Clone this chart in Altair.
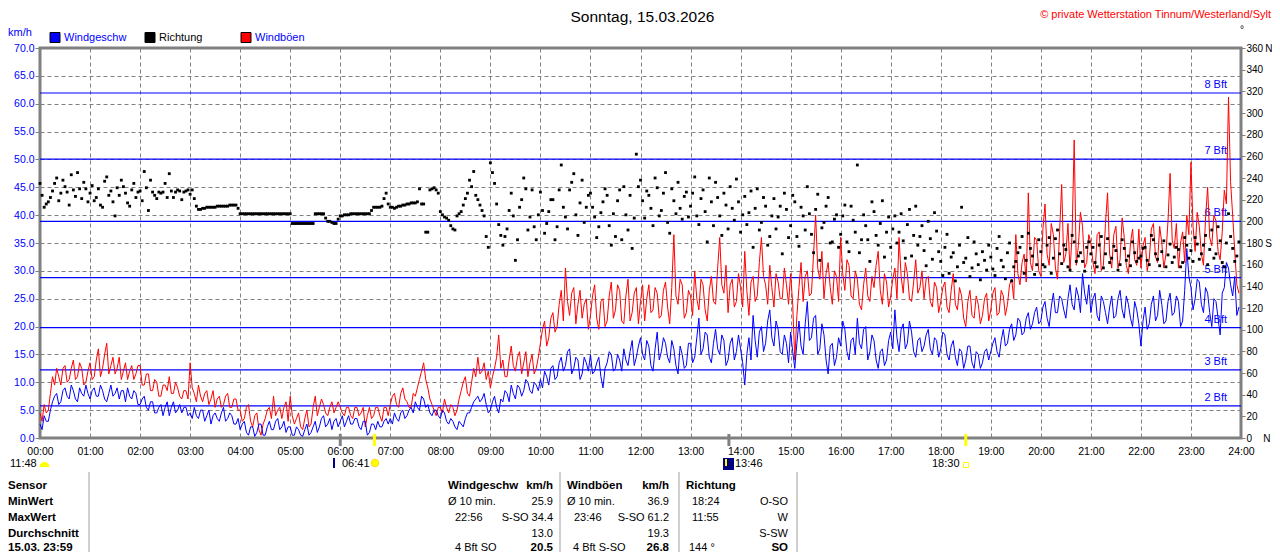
import altair as alt
import pandas as pd

FONT = "Liberation Sans"

# ---------------- data ----------------
# values on the full 5-minute marks (hh:00, hh:05, ...)
wind_by_hour = [
    [2.5, 4.0, 3.0, 6.5, 8.0, 6.5, 9.0, 7.0, 8.5, 6.5, 8.0, 9.5],
    [7.0, 9.0, 7.5, 8.5, 6.5, 9.5, 8.0, 7.0, 8.5, 9.0, 7.0, 8.0],
    [6.0, 7.5, 5.0, 6.5, 4.5, 6.0, 5.5, 4.0, 6.5, 5.0, 4.5, 5.5],
    [4.5, 5.5, 3.5, 5.0, 4.0, 2.5, 4.5, 3.0, 5.5, 3.5, 4.0, 2.5],
    [1.5, 3.0, 0.5, 2.0, 1.0, 2.5, 0.5, 3.0, 1.5, 3.5, 2.0, 1.0],
    [2.0, 0.5, 1.5, 0.3, 2.5, 1.0, 3.0, 2.0, 4.0, 2.5, 1.5, 3.5],
    [3.0, 2.0, 4.0, 2.5, 3.5, 1.5, 3.0, 1.0, 2.5, 3.0, 2.0, 3.5],
    [3.5, 4.5, 3.0, 5.0, 4.0, 5.5, 6.5, 5.0, 7.0, 6.0, 4.0, 5.0],
    [3.5, 4.5, 2.5, 3.0, 1.5, 2.5, 3.5, 4.5, 6.5, 7.5, 7.0, 6.0],
    [5.0, 7.5, 4.5, 6.5, 8.0, 9.5, 7.0, 9.0, 8.5, 10.0, 8.0, 9.5],
    [10.5, 12.0, 9.5, 13.0, 11.0, 14.5, 13.0, 16.0, 12.5, 14.0, 11.5, 13.5],
    [15.0, 12.0, 14.5, 9.0, 13.5, 15.0, 12.5, 14.0, 16.0, 13.0, 17.5, 14.5],
    [18.0, 14.0, 16.5, 12.0, 19.0, 15.5, 17.0, 13.5, 16.0, 11.5, 15.0, 13.0],
    [17.0, 14.5, 21.5, 16.0, 18.5, 13.5, 19.5, 15.0, 17.5, 14.0, 18.0, 15.5],
    [16.0, 9.5, 18.0, 22.0, 14.5, 20.0, 17.0, 23.0, 16.5, 19.5, 15.0, 17.0],
    [19.0, 12.5, 21.0, 15.0, 24.5, 18.0, 22.0, 16.0, 18.5, 11.5, 17.0, 14.5],
    [16.5, 19.5, 14.0, 18.0, 21.5, 16.0, 20.0, 15.5, 17.5, 12.5, 16.0, 14.0],
    [19.0, 23.0, 15.5, 20.5, 17.0, 19.0, 14.5, 18.0, 16.5, 19.5, 15.0, 17.5],
    [16.0, 18.5, 14.0, 17.5, 13.0, 15.5, 14.0, 16.5, 12.5, 15.0, 13.5, 16.0],
    [15.5, 18.0, 14.5, 19.5, 17.0, 20.5, 18.5, 21.0, 19.0, 22.5, 20.5, 23.5],
    [21.0, 24.5, 20.0, 26.0, 22.5, 25.0, 21.5, 27.5, 23.0, 25.5, 29.5, 24.0],
    [22.5, 26.0, 21.0, 24.5, 20.5, 25.5, 22.0, 26.5, 21.5, 24.0, 20.0, 23.0],
    [16.5, 23.5, 20.5, 25.5, 22.0, 24.0, 21.0, 26.0, 22.5, 24.5, 21.0, 34.0],
    [27.0, 25.0, 28.0, 22.5, 26.0, 20.0, 24.5, 18.5, 27.0, 30.5, 25.5, 22.0],
]
# values half-way between the 5-minute marks (hh:02:30, hh:07:30, ...)
wind_half_by_hour = [
    [1.5, 3.0, 5.0, 7.5, 6.0, 8.5, 7.5, 9.5, 7.0, 9.0, 7.5, 8.0],
    [8.5, 7.5, 9.5, 7.0, 8.0, 7.5, 9.0, 8.5, 6.5, 7.5, 8.5, 6.0],
    [7.0, 5.5, 6.5, 4.5, 5.5, 4.0, 6.5, 5.5, 4.5, 6.0, 5.5, 4.0],
    [3.5, 4.0, 5.0, 3.0, 5.0, 4.0, 3.5, 4.5, 3.0, 4.5, 2.5, 3.5],
    [2.5, 1.0, 2.0, 0.3, 2.5, 0.5, 2.0, 1.5, 3.0, 1.5, 3.0, 2.0],
    [0.5, 2.0, 0.5, 1.5, 0.5, 2.0, 1.0, 3.5, 2.0, 3.5, 3.0, 2.0],
    [4.0, 3.0, 2.5, 3.5, 2.0, 3.0, 0.5, 2.5, 1.5, 2.0, 3.0, 2.5],
    [2.5, 3.5, 4.5, 3.5, 5.0, 4.5, 5.5, 7.5, 5.5, 4.5, 5.0, 4.0],
    [5.0, 3.0, 3.5, 2.0, 3.0, 2.0, 4.5, 5.5, 7.0, 6.5, 8.0, 4.5],
    [6.5, 5.5, 7.0, 8.5, 6.5, 8.0, 9.5, 7.5, 10.5, 8.5, 10.0, 8.5],
    [9.0, 11.0, 12.5, 10.5, 13.5, 12.0, 15.5, 11.5, 14.5, 10.5, 14.5, 12.0],
    [11.5, 13.5, 11.0, 12.5, 15.5, 12.0, 15.0, 12.0, 14.0, 15.5, 13.0, 16.5],
    [15.0, 17.5, 13.0, 16.0, 14.0, 18.0, 14.5, 17.5, 13.0, 16.5, 12.5, 17.0],
    [13.5, 18.0, 15.0, 19.0, 14.5, 17.0, 16.0, 18.5, 13.0, 17.0, 14.0, 18.5],
    [13.5, 15.0, 14.0, 17.5, 19.0, 15.5, 21.0, 18.0, 21.0, 15.5, 18.5, 13.5],
    [15.5, 17.0, 16.5, 20.5, 17.5, 21.5, 15.0, 20.5, 14.0, 16.5, 13.0, 18.0],
    [21.0, 15.5, 17.5, 15.0, 17.0, 19.5, 14.0, 18.5, 14.0, 15.5, 13.0, 17.5],
    [16.0, 18.0, 19.5, 16.0, 21.0, 15.5, 17.5, 15.5, 18.5, 16.0, 18.0, 14.5],
    [19.0, 15.0, 16.5, 14.5, 16.0, 12.5, 16.5, 13.5, 15.5, 12.5, 15.5, 14.0],
    [17.0, 15.5, 17.5, 16.5, 19.5, 17.5, 21.5, 18.5, 21.5, 19.5, 22.5, 20.5],
    [23.5, 21.5, 23.5, 22.5, 25.5, 23.0, 25.0, 24.0, 27.0, 22.5, 26.0, 27.5],
    [25.0, 22.0, 25.5, 22.5, 23.5, 21.5, 25.0, 23.0, 25.5, 21.5, 24.5, 20.5],
    [21.0, 19.5, 24.0, 21.0, 26.5, 20.5, 24.5, 22.0, 25.5, 20.0, 26.5, 29.0],
    [23.0, 28.5, 24.0, 27.0, 22.5, 25.0, 21.5, 26.0, 31.5, 27.5, 29.0, 23.5],
]

gust_by_hour = [
    [4.5, 6.0, 5.0, 11.0, 12.5, 9.5, 13.0, 10.5, 14.0, 11.0, 12.5, 10.0],
    [13.5, 11.0, 16.0, 12.5, 17.0, 13.0, 11.5, 14.5, 12.0, 10.5, 13.0, 11.5],
    [13.0, 9.5, 11.5, 8.5, 10.0, 7.5, 9.5, 11.0, 8.0, 9.0, 7.0, 8.5],
    [13.5, 8.0, 9.5, 6.5, 8.5, 7.0, 5.5, 7.5, 6.0, 8.0, 5.5, 7.0],
    [5.0, 3.5, 6.0, 2.0, 4.5, 0.5, 3.5, 5.5, 7.5, 5.0, 3.5, 6.5],
    [7.5, 2.5, 4.5, 1.5, 5.0, 2.5, 7.5, 5.5, 6.0, 4.0, 6.5, 5.5],
    [5.5, 4.0, 5.5, 3.5, 5.5, 4.5, 2.0, 5.5, 4.0, 5.5, 3.0, 5.5],
    [6.0, 8.0, 5.5, 9.0, 6.5, 5.5, 7.5, 10.5, 13.5, 9.0, 6.0, 4.0],
    [5.5, 7.0, 4.5, 5.5, 5.0, 8.5, 11.0, 7.5, 12.5, 14.5, 12.0, 10.5],
    [9.0, 12.5, 18.5, 14.0, 11.0, 16.5, 12.0, 15.5, 13.5, 11.0, 15.0, 12.5],
    [17.0, 21.0, 18.0, 22.5, 20.0, 26.5, 30.5, 22.0, 27.0, 24.0, 21.5, 25.0],
    [22.0, 27.5, 19.5, 25.0, 21.0, 28.0, 23.0, 26.5, 20.5, 28.5, 22.5, 27.0],
    [24.5, 21.0, 27.5, 23.0, 26.0, 22.0, 28.0, 20.5, 36.5, 24.0, 27.5, 22.5],
    [25.5, 30.0, 23.0, 27.5, 21.0, 29.0, 24.0, 36.0, 26.0, 22.5, 28.5, 24.5],
    [27.0, 33.5, 22.0, 29.0, 25.5, 36.0, 27.5, 31.0, 23.5, 28.0, 25.0, 27.5],
    [29.5, 14.0, 27.0, 24.5, 30.0, 26.0, 40.0, 28.5, 25.0, 31.5, 24.0, 29.0],
    [36.0, 26.5, 31.0, 25.0, 28.5, 23.0, 30.5, 24.5, 27.0, 33.5, 24.0, 28.0],
    [25.5, 30.5, 36.0, 26.0, 29.5, 24.5, 32.0, 27.0, 25.0, 29.0, 23.5, 27.0],
    [24.5, 28.0, 22.5, 29.5, 23.0, 25.5, 20.0, 26.5, 21.5, 24.0, 22.0, 26.0],
    [23.0, 27.0, 22.5, 25.5, 24.0, 28.5, 36.5, 27.5, 33.0, 44.0, 30.0, 35.5],
    [29.0, 42.0, 31.0, 36.5, 28.5, 45.5, 33.0, 30.0, 53.5, 34.5, 38.0, 31.5],
    [35.0, 29.5, 37.0, 31.0, 44.0, 30.5, 38.0, 32.0, 36.0, 29.5, 37.5, 31.0],
    [30.5, 36.0, 32.0, 38.5, 31.5, 35.0, 33.0, 47.5, 34.0, 30.5, 37.0, 40.0],
    [49.5, 33.5, 38.0, 31.0, 45.0, 34.5, 39.0, 32.0, 44.5, 61.2, 40.0, 27.5],
]
gust_half_by_hour = [
    [3.0, 4.5, 8.0, 9.5, 11.0, 12.5, 10.0, 12.5, 10.5, 13.5, 9.5, 12.0],
    [10.5, 14.0, 11.0, 15.0, 11.5, 14.5, 12.5, 10.5, 13.5, 12.0, 10.5, 13.0],
    [9.5, 11.5, 8.5, 10.5, 7.5, 9.5, 8.5, 8.0, 10.0, 7.5, 8.5, 7.0],
    [9.0, 6.5, 7.5, 8.0, 6.0, 8.5, 7.0, 5.5, 7.5, 5.5, 7.0, 5.0],
    [3.0, 5.5, 3.0, 4.0, 1.5, 2.5, 5.0, 3.5, 4.0, 5.5, 5.5, 3.0],
    [4.0, 3.5, 2.0, 3.5, 2.0, 5.5, 4.0, 7.0, 4.5, 5.5, 4.5, 6.5],
    [4.5, 5.5, 4.0, 5.5, 4.0, 5.5, 4.0, 3.5, 5.5, 4.0, 5.5, 4.0],
    [7.5, 6.0, 8.0, 7.0, 5.5, 8.0, 9.0, 12.0, 10.5, 7.0, 5.0, 5.5],
    [4.5, 5.5, 6.0, 4.0, 7.0, 10.0, 8.0, 10.0, 11.0, 11.5, 13.5, 12.0],
    [11.0, 14.5, 12.5, 11.0, 14.0, 13.0, 14.5, 11.5, 15.5, 13.5, 11.5, 14.5],
    [19.5, 16.5, 21.5, 19.0, 24.0, 21.0, 24.5, 26.0, 20.5, 26.5, 24.0, 19.5],
    [25.5, 21.5, 24.5, 20.0, 25.5, 21.5, 27.5, 21.0, 25.5, 21.0, 26.0, 20.5],
    [27.5, 25.0, 22.5, 27.0, 21.5, 26.5, 23.5, 27.0, 25.5, 28.5, 21.5, 26.5],
    [22.0, 25.0, 28.5, 23.0, 26.5, 24.5, 30.5, 27.5, 31.0, 27.5, 23.5, 29.5],
    [23.5, 26.5, 28.0, 24.5, 31.5, 29.0, 24.0, 27.0, 29.5, 25.0, 30.5, 24.0],
    [24.0, 22.0, 31.5, 29.0, 25.5, 33.0, 30.5, 33.5, 29.5, 27.0, 30.0, 24.5],
    [29.5, 32.0, 25.5, 30.0, 24.0, 27.5, 25.5, 29.0, 31.0, 26.5, 29.5, 23.5],
    [28.5, 25.0, 29.0, 31.5, 25.0, 28.0, 26.0, 30.0, 28.5, 24.5, 28.0, 22.5],
    [27.0, 23.5, 26.5, 24.0, 27.0, 21.5, 24.5, 22.0, 25.5, 20.5, 25.0, 21.0],
    [26.0, 22.0, 26.5, 22.0, 27.5, 25.0, 29.5, 31.5, 28.0, 31.5, 36.0, 30.0],
    [37.5, 33.0, 38.5, 30.5, 37.0, 31.5, 38.5, 36.5, 31.0, 40.5, 30.5, 36.5],
    [31.5, 36.5, 30.0, 38.5, 33.0, 36.5, 30.5, 39.5, 31.0, 35.0, 32.0, 37.5],
    [34.5, 30.0, 37.5, 32.5, 38.0, 30.5, 39.0, 35.5, 38.5, 35.0, 31.5, 36.5],
    [38.0, 40.5, 33.0, 39.5, 36.0, 40.0, 33.5, 37.0, 42.0, 46.0, 33.5, 26.0],
]

dir_by_hour = [
    [235, 213, 218, 228, 240, 226, 232, 215, 229, 245, 221, 230],
    [226, 219, 230, 213, 241, 228, 205, 224, 232, 217, 229, 222],
    [228, 246, 210, 227, 221, 226, 235, 244, 222, 229, 220, 228],
    [225, 221, 211, 212, 213, 213, 213, 214, 214, 214, 215, 215],
    [207, 207, 207, 207, 207, 207, 207, 207, 207, 207, 207, 207],
    [207, 198, 198, 198, 198, 198, 207, 207, 207, 200, 199, 198],
    [205, 206, 206, 207, 207, 207, 207, 207, 213, 213, 214, 226],
    [213, 212, 214, 215, 216, 217, 217, 230, 216, 190, 230, 229],
    [209, 204, 201, 193, 205, 209, 221, 238, 246, 220, 210, 186],
    [254, 235, 197, 178, 193, 226, 164, 213, 240, 192, 229, 183],
    [227, 189, 209, 220, 195, 252, 204, 229, 244, 187, 238, 213],
    [226, 204, 195, 218, 224, 178, 186, 229, 232, 192, 175, 262],
    [238, 203, 224, 196, 231, 210, 245, 189, 219, 236, 202, 227],
    [214, 241, 197, 229, 181, 218, 236, 205, 226, 193, 212, 239],
    [190, 223, 208, 176, 230, 199, 214, 186, 221, 204, 170, 211],
    [196, 218, 177, 205, 232, 188, 211, 164, 199, 222, 181, 206],
    [188, 215, 172, 201, 252, 183, 196, 163, 209, 178, 219, 190],
    [176, 205, 190, 182, 197, 168, 214, 186, 173, 200, 165, 191],
    [163, 176, 152, 171, 158, 213, 166, 149, 181, 160, 172, 155],
    [167, 150, 186, 158, 171, 145, 163, 176, 152, 189, 168, 160],
    [172, 158, 185, 166, 192, 161, 174, 155, 181, 168, 163, 176],
    [170, 162, 178, 157, 184, 166, 173, 160, 175, 168, 181, 163],
    [168, 176, 160, 183, 165, 172, 158, 179, 167, 174, 162, 178],
    [173, 185, 165, 178, 160, 192, 170, 182, 158, 207, 175, 168],
]
dir_half_by_hour = [
    [224, 216, 222, 235, 219, 238, 227, 243, 223, 230, 236, 218],
    [233, 222, 215, 237, 224, 218, 231, 238, 226, 214, 235, 227],
    [219, 231, 238, 224, 227, 227, 222, 228, 227, 228, 227, 229],
    [229, 214, 211, 212, 213, 213, 214, 214, 214, 215, 215, 212],
    [207, 207, 207, 207, 207, 207, 207, 207, 207, 207, 207, 207],
    [198, 198, 198, 198, 198, 198, 207, 207, 203, 200, 198, 202],
    [205, 206, 207, 207, 207, 207, 207, 210, 213, 213, 221, 216],
    [213, 213, 214, 215, 216, 217, 218, 216, 190, 229, 231, 226],
    [206, 203, 196, 192, 207, 215, 226, 232, 224, 215, 205, 176],
    [245, 216, 187, 186, 210, 205, 183, 220, 230, 204, 195, 206],
    [210, 198, 220, 183, 229, 213, 193, 236, 206, 217, 199, 224],
    [213, 185, 208, 230, 196, 207, 219, 183, 206, 224, 203, 232],
    [219, 228, 212, 240, 205, 226, 199, 230, 207, 212, 223, 204],
    [226, 205, 221, 209, 240, 196, 222, 187, 215, 232, 201, 218],
    [206, 197, 228, 212, 192, 222, 178, 205, 193, 214, 226, 185],
    [224, 186, 213, 192, 207, 171, 225, 194, 214, 180, 202, 176],
    [205, 181, 214, 190, 171, 206, 183, 218, 187, 198, 167, 204],
    [193, 180, 207, 166, 211, 187, 178, 196, 159, 184, 208, 172],
    [150, 188, 167, 145, 178, 162, 185, 157, 170, 146, 164, 178],
    [156, 175, 164, 147, 180, 158, 171, 186, 164, 175, 151, 183],
    [160, 178, 152, 184, 170, 178, 158, 187, 163, 171, 154, 181],
    [176, 158, 186, 170, 162, 177, 155, 183, 164, 159, 171, 166],
    [175, 164, 187, 170, 159, 182, 169, 162, 176, 158, 185, 166],
    [163, 179, 170, 187, 174, 166, 195, 162, 180, 186, 163, 181],
]

bft_levels = [2, 3, 4, 5, 6, 7, 8]
bft_kmh = [5.76, 12.24, 19.8, 28.8, 38.88, 50.04, 61.92]

title_text = "Sonntag, 15.03.2026"
credit_text = "© private Wetterstation Tinnum/Westerland/Sylt"
legend_names = ["Windgeschw", "Richtung", "Windböen"]
legend_fill = ["#0000ff", "#000000", "#ff0000"]
legend_text_color = ["#0000ff", "#000000", "#0000ff"]

event_labels = ["11:48", "06:41", "13:46", "18:30"]
marker_minutes = [360, 401, 826, 1110]
marker_colors = ["#808080", "#ffff00", "#808080", "#ffff00"]

table_labels = ["Sensor", "MinWert", "MaxWert", "Durchschnitt", "15.03.  23:59"]
ws_left = ["Windgeschw", "Ø 10 min.", "22:56", "", "4 Bft SO"]
ws_right = ["km/h", "25.9", "S-SO 34.4", "13.0", "20.5"]
wg_left = ["Windböen", "Ø 10 min.", "23:46", "", "4 Bft S-SO"]
wg_right = ["km/h", "36.9", "S-SO 61.2", "19.3", "26.8"]
rd_left = ["Richtung", "18:24", "11:55", "", "144 °"]
rd_right = ["", "O-SO", "W", "S-SW", "SO"]


def interleave(full_rows, half_rows):
    out = []
    for fr, hr in zip(full_rows, half_rows):
        for a, b in zip(fr, hr):
            out.extend([a, b])
    return out


n = 24 * 12 * 2
df = pd.DataFrame({
    "t": [2.5 * i for i in range(n)],
    "wind": interleave(wind_by_hour, wind_half_by_hour),
    "gust": interleave(gust_by_hour, gust_half_by_hour),
    "dir": interleave(dir_by_hour, dir_half_by_hour),
})

GRID = "#808080"
BLUE = "#0000ff"

x_axis = alt.Axis(
    values=list(range(0, 1441, 60)),
    labelExpr="(datum.value < 600 ? '0' : '') + floor(datum.value / 60) + ':00'",
    grid=True, gridColor=GRID, gridDash=[4, 3], gridWidth=1,
    ticks=False, tickSize=0, domain=False, labelPadding=8,
    labelFontSize=10.5, labelColor="black", labelFont=FONT,
    labelFlush=False, labelOverlap=False, title=None,
)
x_enc = alt.X("t:Q", scale=alt.Scale(domain=[0, 1440], nice=False, zero=False), axis=x_axis)
kmh_scale = alt.Scale(domain=[0, 70], nice=False, zero=False)
left_axis = alt.Axis(
    values=list(range(0, 71, 5)), format=".1f",
    grid=True, gridColor=GRID, gridDash=[4, 3], gridWidth=1,
    tickColor=GRID, tickSize=5, tickWidth=1, domain=False,
    labelColor=BLUE, labelFontSize=10.5, labelFont=FONT, labelPadding=1,
    labelOverlap=False, title=None,
)
TS = "\u2009"
NB = "\u00a0"
right_axis = alt.Axis(
    orient="right", values=list(range(0, 361, 20)),
    labelExpr=("datum.value == 360 ? '360" + TS + "N' : datum.value == 180 ? '180" + TS
               + "S' : datum.value == 0 ? '0" + NB * 4 + "N' : datum.label"),
    grid=False, tickColor=GRID, tickSize=4, tickWidth=1, domain=False,
    labelColor="black", labelFontSize=10, labelFont=FONT, labelPadding=1,
    labelOverlap=False, title=None,
)

bft_df = pd.DataFrame({"kmh": bft_kmh, "label": [f"{b} Bft" for b in bft_levels]})

bft_rules = alt.Chart(bft_df).mark_rule(color=BLUE, strokeWidth=1.2).encode(
    y=alt.Y("kmh:Q", scale=kmh_scale, axis=None)
)
bft_text = alt.Chart(bft_df).mark_text(
    align="right", baseline="middle", dy=-8, color=BLUE, font=FONT, fontSize=11
).encode(x=alt.value(1187), y=alt.Y("kmh:Q", scale=kmh_scale, axis=None), text="label:N")

gust_line = alt.Chart(df).mark_line(color="#ff0000", strokeWidth=1).encode(
    x=x_enc, y=alt.Y("gust:Q", scale=kmh_scale, axis=None)
)
wind_line = alt.Chart(df).mark_line(color=BLUE, strokeWidth=1).encode(
    x=x_enc, y=alt.Y("wind:Q", scale=kmh_scale, axis=left_axis)
)
dir_points = alt.Chart(df).mark_square(size=8, color="black", opacity=1).encode(
    x=x_enc, y=alt.Y("dir:Q", scale=alt.Scale(domain=[0, 360], nice=False, zero=False), axis=right_axis)
)

mk_df = pd.DataFrame({"t": marker_minutes, "color": marker_colors})
markers = alt.Chart(mk_df).mark_rule(strokeWidth=3).encode(
    x=x_enc, y=alt.value(386), y2=alt.value(398), color=alt.Color("color:N", scale=None)
)


def text_layer(items, align="left", weight="normal", baseline="middle"):
    d = pd.DataFrame(items, columns=["label", "px", "py", "color", "fs"])
    return alt.Chart(d).mark_text(align=align, baseline=baseline, font=FONT, fontWeight=weight).encode(
        x=alt.X("px:Q", scale=None, axis=None),
        y=alt.Y("py:Q", scale=None, axis=None),
        text="label:N",
        color=alt.Color("color:N", scale=None),
        size=alt.Size("fs:Q", scale=None),
    )


# layout (view coordinates = page pixels minus (40, 48))
title_items = [(title_text, 602.5, -26, "black", 15.5)]
center_items = [("°", 1202, -18, "black", 10)]
right_top = [(credit_text, 1231, -30, "#ff0000", 11)]

left_normal = [("km/h", -32, -15, BLUE, 11)]
legend_x = [15, 110, 206]
for name, lx, tc in zip(legend_names, legend_x, legend_text_color):
    left_normal.append((name, lx + 9, -10, tc, 11))
event_x = [-30, 302, 695, 892]
for lab, ex in zip(event_labels, event_x):
    left_normal.append((lab, ex, 416, "black", 11))

ROW_Y = [437.5, 453.5, 469.5, 485.5, 499.5]
left_bold, right_normal, right_bold = [], [], []
for i, lab in enumerate(table_labels):
    left_bold.append((lab, -32, ROW_Y[i], "black", 11.5))

cols = [
    (ws_left, ws_right, 408, [0, 0, 7, 7, 7], 513),
    (wg_left, wg_right, 527, [0, 0, 7, 7, 6], 629),
    (rd_left, rd_right, 646, [0, 6, 6, 6, 3], 748),
]
for lefts, rights, lx, ind, rx in cols:
    for i in range(5):
        if lefts[i]:
            item = (lefts[i], lx + ind[i], ROW_Y[i], "black", 11.5 if i == 0 else 11)
            (left_bold if i == 0 else left_normal).append(item)
        if rights[i]:
            bold = i in (0, 4)
            item = (rights[i], rx, ROW_Y[i], "black", 11.5 if bold else 11)
            (right_bold if bold else right_normal).append(item)

legend_df = pd.DataFrame({"px": legend_x, "py": [-10.5] * 3, "fill": legend_fill})
legend_squares = alt.Chart(legend_df).mark_square(size=100, stroke="black", strokeWidth=1, opacity=1).encode(
    x=alt.X("px:Q", scale=None, axis=None), y=alt.Y("py:Q", scale=None, axis=None),
    fill=alt.Fill("fill:N", scale=None),
)

div_df = pd.DataFrame({"px": [49, 520, 639, 757]})
dividers = alt.Chart(div_df).mark_rule(color="#a0a0a0", strokeWidth=1).encode(
    x=alt.X("px:Q", scale=None, axis=None), y=alt.value(424), y2=alt.value(520)
)

one = pd.DataFrame({"k": [0]})
moon = alt.Chart(one).mark_arc(radius=5, theta=4.712, theta2=7.854, color="#ffff00").encode(
    x=alt.value(4.5), y=alt.value(419)
)
sun = alt.Chart(one).mark_point(shape="circle", size=55, filled=True, color="#ffff00", opacity=1,
                                stroke="#ffd800", strokeWidth=1).encode(x=alt.value(335), y=alt.value(415))
blue_bar = alt.Chart(one).mark_rule(color="#000080", strokeWidth=2).encode(
    x=alt.value(294), y=alt.value(410), y2=alt.value(420)
)
moon_box = alt.Chart(one).mark_rect(color="#000080").encode(
    x=alt.value(683), x2=alt.value(694), y=alt.value(410), y2=alt.value(422)
)
moon_arrow = alt.Chart(one).mark_rule(color="#ffff00", strokeWidth=2).encode(
    x=alt.value(686), y=alt.value(411), y2=alt.value(418)
)
small_sq = alt.Chart(one).mark_square(size=25, filled=False, color="#ffff00", strokeWidth=1, opacity=1).encode(
    x=alt.value(926), y=alt.value(417)
)

chart = alt.layer(
    bft_rules, bft_text, gust_line, wind_line, dir_points, markers,
    legend_squares, dividers, moon, sun, blue_bar, moon_box, moon_arrow, small_sq,
    text_layer(title_items, align="center", baseline="alphabetic"),
    text_layer(center_items, align="center"),
    text_layer(right_top, align="right", baseline="alphabetic"),
    text_layer(left_normal, align="left"),
    text_layer(left_bold, align="left", weight="bold"),
    text_layer(right_normal, align="right"),
    text_layer(right_bold, align="right", weight="bold"),
).resolve_scale(y="independent").properties(
    width=1201, height=390,
    padding={"left": 32, "top": 40, "right": 31, "bottom": 114},
    autosize=alt.AutoSizeParams(type="none"),
    background="white",
).configure_view(stroke=GRID, strokeWidth=3).configure_axis(labelFont=FONT)

chart.save("out.html", embed_options={"renderer": "svg", "actions": False})
